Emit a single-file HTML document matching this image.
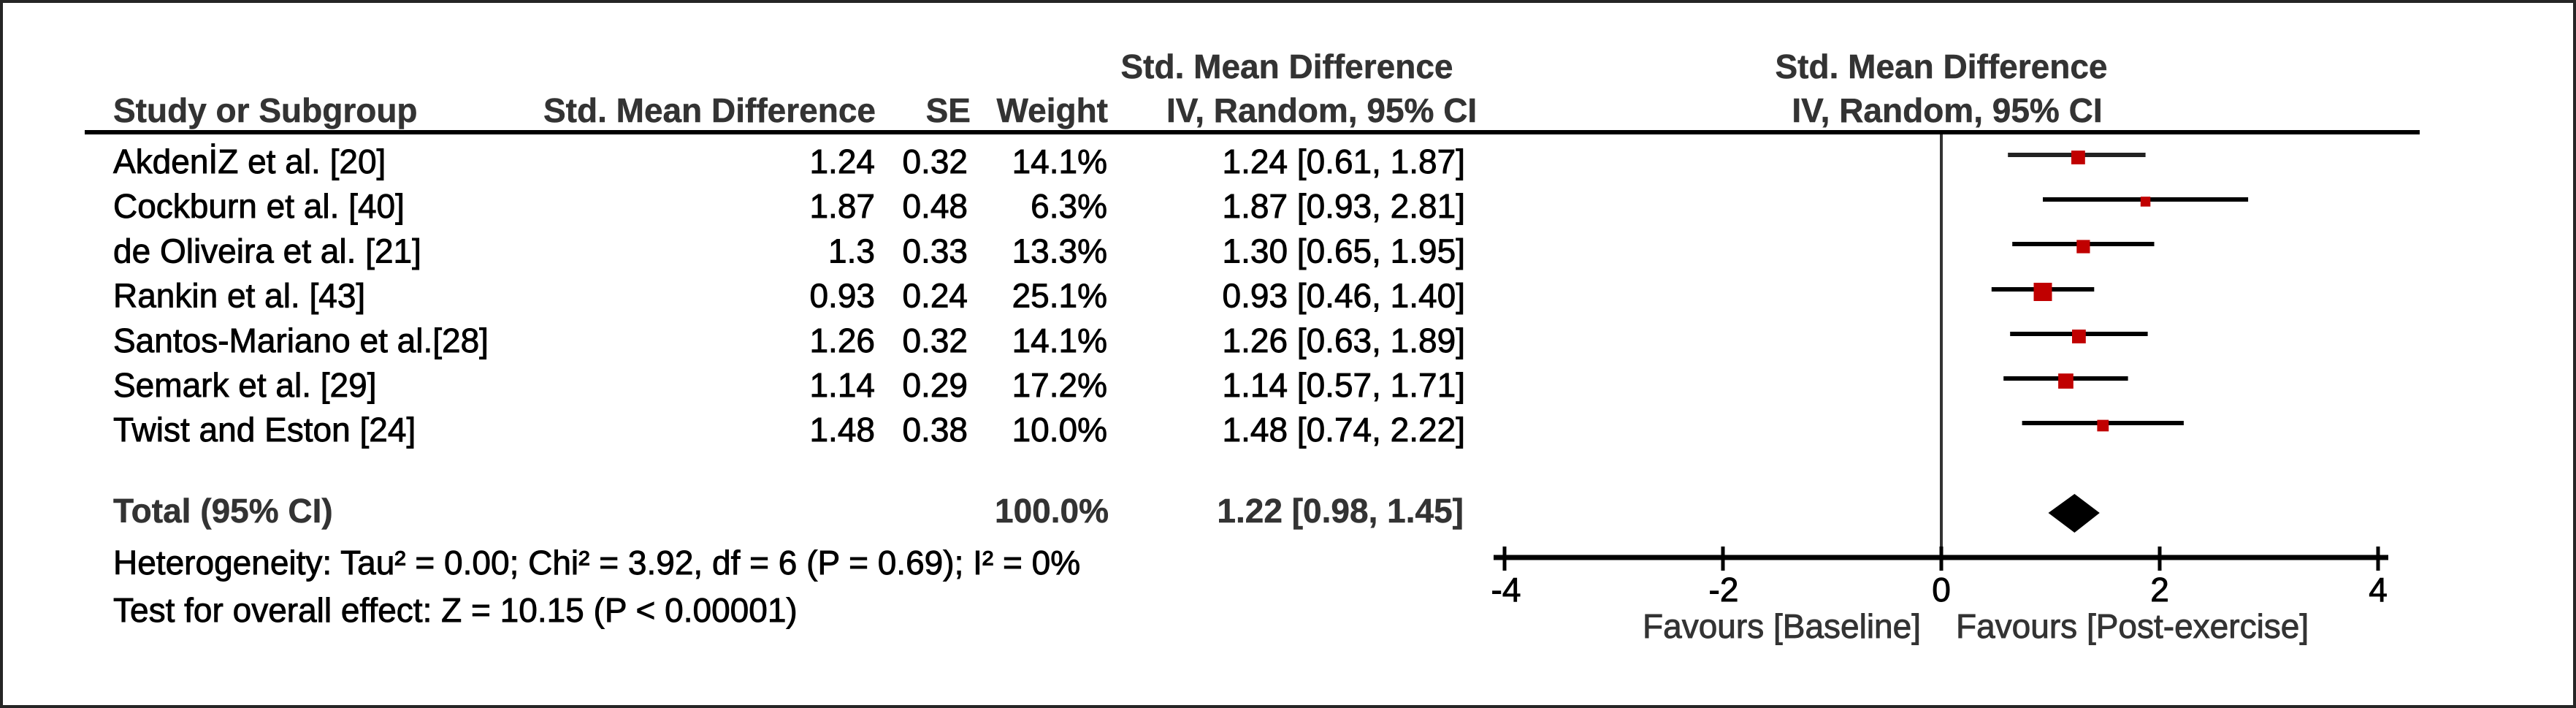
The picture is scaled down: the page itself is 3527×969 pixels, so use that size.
<!DOCTYPE html>
<html>
<head>
<meta charset="utf-8">
<style>
  html, body { margin: 0; padding: 0; background: #ffffff; }
  body { width: 3527px; height: 969px; overflow: hidden; }
  svg { display: block; }
  .t { font-family: "Liberation Sans", Arial, sans-serif; font-size: 46px; fill: #000; stroke: #000; stroke-width: 0.9px; }
  .b { font-family: "Liberation Sans", Arial, sans-serif; font-size: 46px; font-weight: bold; fill: #333; stroke: #333; stroke-width: 0.5px; }
  .g { font-family: "Liberation Sans", Arial, sans-serif; font-size: 46px; fill: #333; stroke: #333; stroke-width: 0.9px; }
</style>
</head>
<body>
<svg width="3527" height="969" viewBox="0 0 3527 969" xmlns="http://www.w3.org/2000/svg">
  <rect x="0" y="0" width="3527" height="969" fill="#ffffff"/>
  <!-- outer border -->
  <rect x="2" y="2" width="3523" height="965" fill="none" stroke="#262626" stroke-width="4"/>

  <!-- header row 1 -->
  <text class="b" x="1762" y="107" text-anchor="middle">Std. Mean Difference</text>
  <text class="b" x="2658" y="107" text-anchor="middle">Std. Mean Difference</text>

  <!-- header row 2 -->
  <text class="b" x="155" y="167">Study or Subgroup</text>
  <text class="b" x="1199" y="167" text-anchor="end">Std. Mean Difference</text>
  <text class="b" x="1329" y="167" text-anchor="end">SE</text>
  <text class="b" x="1517" y="167" text-anchor="end">Weight</text>
  <text class="b" x="1597" y="167">IV, Random, 95% CI</text>
  <text class="b" x="2666" y="167" text-anchor="middle">IV, Random, 95% CI</text>

  <!-- header rule -->
  <rect x="116" y="178" width="3197" height="6" fill="#000"/>

  <!-- zero line -->
  <rect x="2656" y="184" width="4" height="578" fill="#333"/>

  <!-- study rows -->
  <g>
    <text class="t" x="155" y="237">AkdenİZ et al. [20]</text>
    <text class="t" x="1198" y="237" text-anchor="end">1.24</text>
    <text class="t" x="1325" y="237" text-anchor="end">0.32</text>
    <text class="t" x="1516" y="237" text-anchor="end">14.1%</text>
    <text class="t" x="2006" y="237" text-anchor="end">1.24 [0.61, 1.87]</text>

    <text class="t" x="155" y="298.2">Cockburn et al. [40]</text>
    <text class="t" x="1198" y="298.2" text-anchor="end">1.87</text>
    <text class="t" x="1325" y="298.2" text-anchor="end">0.48</text>
    <text class="t" x="1516" y="298.2" text-anchor="end">6.3%</text>
    <text class="t" x="2006" y="298.2" text-anchor="end">1.87 [0.93, 2.81]</text>

    <text class="t" x="155" y="359.4">de Oliveira et al. [21]</text>
    <text class="t" x="1198" y="359.4" text-anchor="end">1.3</text>
    <text class="t" x="1325" y="359.4" text-anchor="end">0.33</text>
    <text class="t" x="1516" y="359.4" text-anchor="end">13.3%</text>
    <text class="t" x="2006" y="359.4" text-anchor="end">1.30 [0.65, 1.95]</text>

    <text class="t" x="155" y="420.6">Rankin et al. [43]</text>
    <text class="t" x="1198" y="420.6" text-anchor="end">0.93</text>
    <text class="t" x="1325" y="420.6" text-anchor="end">0.24</text>
    <text class="t" x="1516" y="420.6" text-anchor="end">25.1%</text>
    <text class="t" x="2006" y="420.6" text-anchor="end">0.93 [0.46, 1.40]</text>

    <text class="t" x="155" y="481.8">Santos-Mariano et al.[28]</text>
    <text class="t" x="1198" y="481.8" text-anchor="end">1.26</text>
    <text class="t" x="1325" y="481.8" text-anchor="end">0.32</text>
    <text class="t" x="1516" y="481.8" text-anchor="end">14.1%</text>
    <text class="t" x="2006" y="481.8" text-anchor="end">1.26 [0.63, 1.89]</text>

    <text class="t" x="155" y="543">Semark et al. [29]</text>
    <text class="t" x="1198" y="543" text-anchor="end">1.14</text>
    <text class="t" x="1325" y="543" text-anchor="end">0.29</text>
    <text class="t" x="1516" y="543" text-anchor="end">17.2%</text>
    <text class="t" x="2006" y="543" text-anchor="end">1.14 [0.57, 1.71]</text>

    <text class="t" x="155" y="604.2">Twist and Eston [24]</text>
    <text class="t" x="1198" y="604.2" text-anchor="end">1.48</text>
    <text class="t" x="1325" y="604.2" text-anchor="end">0.38</text>
    <text class="t" x="1516" y="604.2" text-anchor="end">10.0%</text>
    <text class="t" x="2006" y="604.2" text-anchor="end">1.48 [0.74, 2.22]</text>
  </g>

  <!-- CI lines: x(v) = 2658 + 149.5 v -->
  <g fill="#000">
    <rect x="2749.2" y="209" width="188.4" height="6" fill="#222"/>
    <rect x="2797.0" y="270" width="281.1" height="6"/>
    <rect x="2755.2" y="331" width="194.3" height="6"/>
    <rect x="2726.8" y="393" width="140.5" height="6"/>
    <rect x="2752.2" y="454" width="188.4" height="6"/>
    <rect x="2743.2" y="515" width="170.4" height="6"/>
    <rect x="2768.6" y="576" width="221.3" height="6"/>
  </g>

  <!-- squares -->
  <g fill="#c00000">
    <rect x="2836.0" y="206.1" width="18.8" height="18.8"/>
    <rect x="2930.8" y="269.2" width="13.5" height="13.5"/>
    <rect x="2843.3" y="328.4" width="18.2" height="18.2"/>
    <rect x="2784.5" y="387" width="25" height="25"/>
    <rect x="2837.0" y="451.1" width="18.8" height="18.8"/>
    <rect x="2818.1" y="511.2" width="20.7" height="20.7"/>
    <rect x="2871.4" y="574.6" width="15.8" height="15.8"/>
  </g>

  <!-- total -->
  <text class="b" x="155" y="715">Total (95% CI)</text>
  <text class="b" x="1518" y="715" text-anchor="end">100.0%</text>
  <text class="b" x="2004" y="715" text-anchor="end">1.22 [0.98, 1.45]</text>
  <polygon points="2804.5,702 2840.4,676 2874.8,702 2840.4,729" fill="#000"/>

  <text class="t" x="155" y="786">Heterogeneity: Tau² = 0.00; Chi² = 3.92, df = 6 (P = 0.69); I² = 0%</text>
  <text class="t" x="155" y="851">Test for overall effect: Z = 10.15 (P &lt; 0.00001)</text>

  <!-- axis -->
  <rect x="2045" y="759.5" width="1225" height="7" fill="#000"/>
  <g fill="#000">
    <rect x="2057.5" y="748" width="5" height="33"/>
    <rect x="2356.5" y="748" width="5" height="33"/>
    <rect x="2655.5" y="748" width="5" height="33"/>
    <rect x="2954.5" y="748" width="5" height="33"/>
    <rect x="3253.5" y="748" width="5" height="33"/>
  </g>
  <text class="t" x="2062" y="823" text-anchor="middle">-4</text>
  <text class="t" x="2360" y="823" text-anchor="middle">-2</text>
  <text class="t" x="2658" y="823" text-anchor="middle">0</text>
  <text class="t" x="2957" y="823" text-anchor="middle">2</text>
  <text class="t" x="3256" y="823" text-anchor="middle">4</text>

  <text class="g" x="2630" y="873" text-anchor="end">Favours [Baseline]</text>
  <text class="g" x="2678" y="873">Favours [Post-exercise]</text>
</svg>
</body>
</html>
